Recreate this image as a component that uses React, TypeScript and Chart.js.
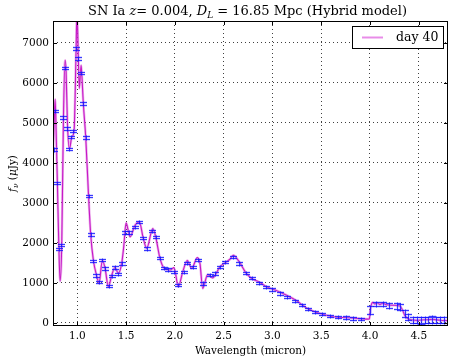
import React, { useEffect, useRef } from 'react';
import { Chart, registerables } from 'chart.js';

Chart.register(...registerables);

// ---- data ----
const lineWl = [
  0.750, 0.762, 0.772, 0.782, 0.795, 0.810, 0.823, 0.840, 0.857, 0.874, 0.884, 0.898, 0.918, 0.943, 0.966,
  0.987, 0.995, 1.003, 1.010, 1.020, 1.038, 1.045, 1.061, 1.086, 1.113, 1.137, 1.164, 1.199, 1.222, 1.256,
  1.284, 1.318, 1.352, 1.386, 1.420, 1.455, 1.475, 1.499, 1.540, 1.591, 1.635, 1.676, 1.711, 1.773, 1.803,
  1.847, 1.891, 1.950, 1.991, 2.035, 2.080, 2.127, 2.172, 2.230, 2.257, 2.285, 2.336, 2.387, 2.462, 2.513,
  2.564, 2.598, 2.660, 2.728, 2.787, 2.872, 2.941, 3.026, 3.145, 3.248, 3.350, 3.453, 3.487, 3.623, 3.794,
  3.982, 3.994, 4.004, 4.027, 4.050, 4.071, 4.102, 4.132, 4.170, 4.235, 4.307, 4.334, 4.358, 4.409, 4.478,
  4.563, 4.645, 4.717, 4.800,
];
const lineFlux = [
  4200, 5000, 5590, 4800, 3500, 1900, 1040, 2000, 5100, 6570, 6300, 5000, 4340, 4650, 4800,
  6860, 7750, 7300, 6610, 5860, 6440, 6235, 5485, 4625, 3250, 2190, 1565, 1165, 985, 1565,
  1360, 900, 1190, 1385, 1235, 1500, 1900, 2500, 2150, 2440, 2525, 2110, 1860, 2360, 2150,
  1610, 1360, 1320, 1380, 900, 1275, 1560, 1360, 1630, 1480, 860, 1210, 1125, 1400, 1500,
  1590, 1690, 1525, 1250, 1110, 1010, 900, 820, 690, 550, 370, 260, 235, 150, 125,
  92, 100, 330, 510, 470, 500, 460, 490, 450, 440, 420, 318, 180, 80, 60,
  75, 85, 65, 55,
];

const markWl = [
  0.761, 0.768, 0.795, 0.813, 0.830, 0.850, 0.874, 0.891, 0.918, 0.935, 0.959, 0.984, 1.010, 1.038, 1.061,
  1.086, 1.117, 1.140, 1.164, 1.192, 1.219, 1.253, 1.287, 1.322, 1.352, 1.383, 1.417, 1.455, 1.489, 1.530,
  1.591, 1.635, 1.676, 1.711, 1.762, 1.806, 1.847, 1.888, 1.932, 1.994, 2.035, 2.093, 2.127, 2.182, 2.234,
  2.291, 2.360, 2.411, 2.462, 2.513, 2.598, 2.660, 2.728, 2.787, 2.865, 2.933, 2.992, 3.077, 3.152, 3.231,
  3.299, 3.367, 3.435, 3.510, 3.590, 3.670, 3.750, 3.830, 3.910, 3.999, 4.060, 4.130, 4.197, 4.272, 4.306,
  4.358, 4.391, 4.443, 4.480, 4.520, 4.560, 4.600, 4.640, 4.680, 4.720, 4.760,
];
const markFlux = [
  4340, 5300, 3500, 1840, 1940, 5135, 6375, 4860, 4343, 4650, 4793, 6860, 6608, 6250, 5485,
  4633, 3176, 2209, 1542, 1184, 1025, 1567, 1359, 917, 1176, 1384, 1217, 1484, 2259, 2259,
  2400, 2525, 2125, 1859, 2292, 2150, 1625, 1375, 1334, 1275, 942, 1275, 1500, 1400, 1567,
  984, 1192, 1234, 1400, 1525, 1650, 1484, 1250, 1125, 1000, 900, 834, 734, 650, 550,
  442, 342, 275, 215, 175, 145, 128, 112, 102, 320, 480, 470, 434, 426, 400,
  234, 150, 70, 65, 60, 70, 75, 80, 75, 70, 65,
];
const markErr = [
  30, 30, 30, 30, 30, 30, 30, 30, 30, 30, 30, 30, 30, 30, 30,
  30, 30, 30, 30, 30, 30, 30, 30, 30, 30, 30, 30, 30, 30, 30,
  30, 30, 30, 30, 30, 30, 30, 30, 30, 30, 30, 30, 30, 30, 30,
  30, 30, 30, 30, 30, 30, 30, 30, 30, 30, 30, 30, 30, 30, 30,
  30, 30, 30, 30, 30, 30, 30, 30, 30, 100, 50, 50, 60, 70, 70,
  80, 80, 80, 80, 80, 80, 80, 80, 80, 80, 80,
];

const xTicks = [1.0, 1.5, 2.0, 2.5, 3.0, 3.5, 4.0, 4.5];
const yTicks = [0, 1000, 2000, 3000, 4000, 5000, 6000, 7000];
const X_MIN = 0.75;
const X_MAX = 4.8;
const Y_MIN = -80;
const Y_MAX = 7550;
const legendLabel = 'day 40';

const SERIF = '"DejaVu Serif", serif';

type Part = { t: string; font: string; dy?: number };

function drawRich(ctx: CanvasRenderingContext2D, parts: Part[], x: number, y: number) {
  let total = 0;
  const widths: number[] = [];
  for (const p of parts) {
    ctx.font = p.font;
    const w = ctx.measureText(p.t).width;
    widths.push(w);
    total += w;
  }
  let cx = x - total / 2;
  ctx.textAlign = 'left';
  ctx.textBaseline = 'alphabetic';
  parts.forEach((p, i) => {
    ctx.font = p.font;
    ctx.fillText(p.t, cx, y + (p.dy || 0));
    cx += widths[i];
  });
}

const decorPlugin = {
  id: 'decor',
  afterDatasetsDraw(chart: any) {
    const ctx: CanvasRenderingContext2D = chart.ctx;
    const xs = chart.scales.x;
    const ys = chart.scales.y;
    const ca = chart.chartArea;
    ctx.save();
    ctx.beginPath();
    ctx.rect(ca.left, ca.top, ca.right - ca.left, ca.bottom - ca.top);
    ctx.clip();
    const hw = 3.5;
    const passes = [
      { c: 'rgba(110,110,255,0.25)', w: 3 },
      { c: 'rgba(20,20,255,0.8)', w: 1 },
    ];
    for (const ps of passes) {
      ctx.strokeStyle = ps.c;
      ctx.lineWidth = ps.w;
      ctx.beginPath();
      markWl.forEach((w, i) => {
        const px = Math.round(xs.getPixelForValue(w)) + 0.5;
        const yTop = Math.round(ys.getPixelForValue(markFlux[i] + markErr[i])) + 0.5;
        const yBot = Math.round(ys.getPixelForValue(markFlux[i] - markErr[i])) + 0.5;
        ctx.moveTo(px, yTop - 1);
        ctx.lineTo(px, yBot + 1);
        ctx.moveTo(px - hw, yTop);
        ctx.lineTo(px + hw, yTop);
        ctx.moveTo(px - hw, yBot);
        ctx.lineTo(px + hw, yBot);
      });
      ctx.stroke();
    }
    ctx.restore();
  },
  afterDraw(chart: any) {
    const ctx: CanvasRenderingContext2D = chart.ctx;
    const xs = chart.scales.x;
    const ys = chart.scales.y;
    const ca = chart.chartArea;
    ctx.save();
    // inward ticks
    ctx.strokeStyle = '#000';
    ctx.lineWidth = 1;
    ctx.beginPath();
    xTicks.forEach((v) => {
      const px = Math.round(xs.getPixelForValue(v)) + 0.5;
      ctx.moveTo(px, ca.bottom);
      ctx.lineTo(px, ca.bottom - 4);
      ctx.moveTo(px, ca.top);
      ctx.lineTo(px, ca.top + 4);
    });
    yTicks.forEach((v) => {
      const py = Math.round(ys.getPixelForValue(v)) + 0.5;
      ctx.moveTo(ca.left, py);
      ctx.lineTo(ca.left + 4, py);
      ctx.moveTo(ca.right, py);
      ctx.lineTo(ca.right - 4, py);
    });
    ctx.stroke();
    // frame
    ctx.strokeRect(ca.left + 0.5, ca.top + 0.5, ca.right - ca.left - 1, ca.bottom - ca.top - 1);

    // title
    ctx.fillStyle = '#000';
    const tf = `13px ${SERIF}`;
    const tfi = `italic 13px ${SERIF}`;
    drawRich(
      ctx,
      [
        { t: 'SN Ia ', font: tf },
        { t: 'z', font: tfi },
        { t: '= 0.004, ', font: tf },
        { t: 'D', font: tfi },
        { t: 'L', font: `italic 9px ${SERIF}`, dy: 3 },
        { t: ' = 16.85 Mpc (Hybrid model)', font: tf },
      ],
      (ca.left + ca.right) / 2 - 3,
      15
    );

    // x label
    drawRich(ctx, [{ t: 'Wavelength (micron)', font: `10.5px ${SERIF}` }], (ca.left + ca.right) / 2, 354);

    // y label
    ctx.save();
    ctx.translate(16, (ca.top + ca.bottom) / 2);
    ctx.rotate(-Math.PI / 2);
    drawRich(
      ctx,
      [
        { t: 'f', font: `italic 10.5px ${SERIF}` },
        { t: 'ν', font: `italic 7.5px ${SERIF}`, dy: 2 },
        { t: ' (', font: `10.5px ${SERIF}` },
        { t: 'μ', font: `italic 10.5px ${SERIF}` },
        { t: 'Jy)', font: `10.5px ${SERIF}` },
      ],
      0,
      0
    );
    ctx.restore();

    // legend
    const bx = ca.right - 96;
    const by = ca.top + 5;
    const bw = 92;
    const bh = 23;
    ctx.fillStyle = '#fff';
    ctx.fillRect(bx, by, bw, bh);
    ctx.strokeStyle = '#000';
    ctx.lineWidth = 1;
    ctx.strokeRect(bx + 0.5, by + 0.5, bw - 1, bh - 1);
    ctx.strokeStyle = 'rgba(204,0,204,0.45)';
    ctx.lineWidth = 2;
    ctx.beginPath();
    ctx.moveTo(bx + 10, by + bh / 2);
    ctx.lineTo(bx + 31, by + bh / 2);
    ctx.stroke();
    ctx.fillStyle = '#000';
    ctx.font = `12.5px ${SERIF}`;
    ctx.textAlign = 'left';
    ctx.textBaseline = 'middle';
    ctx.fillText(legendLabel, bx + 44, by + bh / 2 + 0.5);
    ctx.restore();
  },
};

export default function App() {
  const canvasRef = useRef<HTMLCanvasElement | null>(null);

  useEffect(() => {
    const canvas = canvasRef.current;
    if (!canvas) return;
    const pts = lineWl.map((w, i) => ({ x: w, y: lineFlux[i] }));
    const chart = new Chart(canvas, {
      type: 'line',
      data: {
        datasets: [
          {
            label: legendLabel,
            data: pts,
            borderColor: 'rgba(210,60,210,0.4)',
            borderWidth: 2.5,
            pointRadius: 0,
            cubicInterpolationMode: 'monotone',
            fill: false,
          },
          {
            label: 'core',
            data: pts,
            borderColor: 'rgba(190,0,190,1)',
            borderWidth: 1.1,
            pointRadius: 0,
            cubicInterpolationMode: 'monotone',
            fill: false,
          },
        ],
      },
      options: {
        responsive: false,
        animation: false,
        events: [],
        layout: { padding: { left: 0, right: 7, top: 21, bottom: 0 } },
        plugins: {
          legend: { display: false },
          title: { display: false },
          tooltip: { enabled: false },
        },
        scales: {
          x: {
            type: 'linear',
            min: X_MIN,
            max: X_MAX,
            afterBuildTicks: (s: any) => {
              s.ticks = xTicks.map((v) => ({ value: v }));
            },
            afterFit: (s: any) => {
              s.height = 36;
            },
            ticks: {
              callback: (v: any) => Number(v).toFixed(1),
              font: { family: SERIF, size: 10.5 },
              color: '#000',
              padding: 4,
              maxRotation: 0,
              autoSkip: false,
            },
            grid: { color: 'rgba(0,0,0,0.75)', lineWidth: 1, drawTicks: false },
            border: { display: false, dash: [1, 3] },
          },
          y: {
            type: 'linear',
            min: Y_MIN,
            max: Y_MAX,
            afterBuildTicks: (s: any) => {
              s.ticks = yTicks.map((v) => ({ value: v }));
            },
            afterFit: (s: any) => {
              s.width = 53;
            },
            ticks: {
              callback: (v: any) => String(v),
              font: { family: SERIF, size: 10.5 },
              color: '#000',
              padding: 4,
              autoSkip: false,
            },
            grid: { color: 'rgba(0,0,0,0.75)', lineWidth: 1, drawTicks: false },
            border: { display: false, dash: [1, 3] },
          },
        },
      },
      plugins: [decorPlugin],
    } as any);
    return () => chart.destroy();
  }, []);

  return (
    <div style={{ position: 'absolute', left: 0, top: 0, width: 455, height: 362, background: '#fff' }}>
      <canvas ref={canvasRef} width={455} height={362} style={{ width: 455, height: 362, display: 'block' }} />
    </div>
  );
}
